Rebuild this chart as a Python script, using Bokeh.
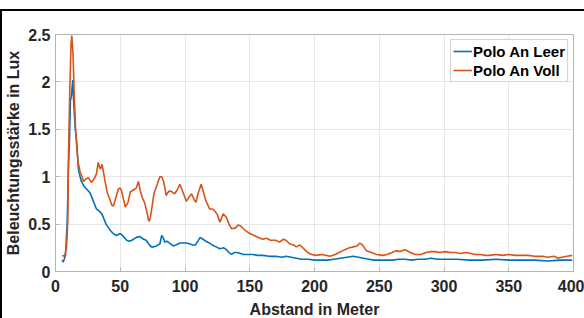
from bokeh.plotting import figure
from bokeh.models import Range1d, FixedTicker, CustomJSTickFormatter, Legend, LegendItem
from bokeh.embed import file_html
from bokeh.resources import INLINE

# --- data ---
leer_x = [5, 6, 7.7, 9, 10, 10.8, 11.5, 12.3, 13.3, 14, 15, 16.4, 17.7, 19, 20, 22, 24, 26.6, 29, 31.6,
          33.5, 35.6, 37, 39, 41, 42.5, 44.7, 47, 50, 51, 53, 55, 57, 59, 62.5, 65, 68, 70, 72, 74,
          76, 78, 80.6, 82, 83, 84.5, 86, 88, 91, 93, 96, 98.6, 101, 104, 106, 108, 110, 111.7, 114, 116,
          119, 121, 124, 127, 130, 132, 134, 136, 138, 140, 143, 145, 149, 152.5, 156, 160, 165, 170, 175, 178,
          182, 186, 190, 195, 200, 205, 210, 215, 220, 225, 230, 234, 238, 242, 246, 250, 255, 260, 265, 270,
          275, 280, 285, 290, 295, 300, 310, 320, 330, 340, 350, 360, 370, 380, 390, 399]
leer_y = [0.12, 0.10, 0.17, 0.50, 1.10, 1.39, 1.80, 1.85, 2.02, 1.80, 1.55, 1.35, 1.08, 1.00, 0.95, 0.90, 0.87, 0.83, 0.75, 0.66,
          0.64, 0.61, 0.57, 0.50, 0.46, 0.43, 0.40, 0.38, 0.40, 0.39, 0.36, 0.33, 0.32, 0.33, 0.36, 0.37, 0.34, 0.33, 0.29, 0.26,
          0.26, 0.27, 0.29, 0.38, 0.36, 0.31, 0.32, 0.30, 0.27, 0.28, 0.30, 0.30, 0.30, 0.29, 0.28, 0.28, 0.32, 0.36, 0.34, 0.32,
          0.30, 0.28, 0.26, 0.24, 0.25, 0.23, 0.20, 0.18, 0.20, 0.20, 0.19, 0.18, 0.18, 0.18, 0.17, 0.17, 0.16, 0.16, 0.15, 0.16,
          0.15, 0.14, 0.13, 0.13, 0.12, 0.12, 0.12, 0.13, 0.14, 0.15, 0.16, 0.15, 0.14, 0.13, 0.12, 0.12, 0.12, 0.12, 0.13, 0.13,
          0.12, 0.13, 0.13, 0.14, 0.13, 0.13, 0.13, 0.12, 0.12, 0.13, 0.12, 0.12, 0.12, 0.11, 0.12, 0.12]

voll_x = [5, 7, 8.5, 9.5, 10, 11, 12, 12.6, 13.5, 14.5, 15.5, 16.5, 17.5, 19, 20.5, 21.6, 23, 25.4, 27.7, 29.5,
          31.6, 33, 34, 34.7, 36, 37, 38.3, 40, 42, 43.5, 44.7, 46, 48.5, 50, 51, 52.5, 54, 56, 57.8, 60,
          62.4, 64, 65.5, 67, 69, 71, 72, 73, 74.5, 76, 78, 80.6, 82, 83.5, 85.5, 86.5, 88, 90, 92, 94,
          96, 98.6, 101, 103, 105, 107, 108.5, 110, 112.5, 114, 116, 119, 121, 123, 125, 127, 129.5, 132, 134, 136,
          139, 141, 143, 146, 150, 155, 160, 163, 166, 170, 173, 176, 178, 181, 184, 186, 188.7, 191, 194, 196,
          198, 201, 206, 212, 216, 219, 222, 225, 227, 230, 233, 235, 237, 240, 244, 248, 252.7, 256, 260, 263,
          266, 270, 274, 278, 282, 286, 290, 293, 297, 301, 305, 309, 313, 317, 321, 324, 328, 332, 335, 340,
          345, 350, 355, 360, 365, 370, 376, 380, 385, 388, 391, 395, 399]
voll_y = [0.17, 0.16, 0.25, 0.53, 1.20, 1.90, 2.40, 2.49, 2.30, 1.85, 1.50, 1.30, 1.15, 1.05, 1.00, 0.95, 0.97, 0.99, 0.94, 0.97,
          1.03, 1.15, 1.10, 1.08, 1.13, 1.05, 0.95, 0.83, 0.76, 0.70, 0.69, 0.75, 0.87, 0.88, 0.85, 0.76, 0.68, 0.73, 0.84, 0.86,
          0.88, 0.95, 0.85, 0.78, 0.72, 0.60, 0.53, 0.55, 0.68, 0.82, 0.90, 1.00, 1.00, 0.95, 0.80, 0.83, 0.85, 0.84, 0.82, 0.86,
          0.92, 0.83, 0.74, 0.78, 0.82, 0.76, 0.73, 0.82, 0.92, 0.85, 0.75, 0.66, 0.66, 0.64, 0.60, 0.52, 0.61, 0.57, 0.50, 0.45,
          0.46, 0.49, 0.48, 0.44, 0.40, 0.37, 0.34, 0.35, 0.33, 0.33, 0.31, 0.34, 0.33, 0.29, 0.28, 0.26, 0.28, 0.25, 0.21, 0.19,
          0.18, 0.17, 0.18, 0.16, 0.18, 0.20, 0.22, 0.24, 0.25, 0.26, 0.27, 0.30, 0.28, 0.22, 0.20, 0.18, 0.17, 0.18, 0.20, 0.22,
          0.21, 0.23, 0.20, 0.18, 0.18, 0.20, 0.21, 0.21, 0.20, 0.21, 0.20, 0.20, 0.19, 0.20, 0.19, 0.18, 0.18, 0.17, 0.17, 0.18,
          0.17, 0.18, 0.17, 0.17, 0.17, 0.16, 0.16, 0.15, 0.16, 0.14, 0.15, 0.16, 0.17]

x_ticks = [0, 50, 100, 150, 200, 250, 300, 350, 400]
y_ticks = [0, 0.5, 1, 1.5, 2, 2.5]

series_names = ["Polo An Leer", "Polo An Voll"]
colors = ["#0072BD", "#D95319"]

FONT = "Liberation Sans"
TXT = "#262626"
AX = "#b4b4b4"

p = figure(width=584, height=309, output_backend="svg", toolbar_location=None,
           x_range=Range1d(0, 400), y_range=Range1d(0, 2.5),
           min_border_left=50, min_border_right=13, min_border_top=23, min_border_bottom=45)
p.styles = {"border-top": "2px solid black", "border-left": "2px solid black",
            "margin-top": "9px"}
p.outline_line_color = AX
p.background_fill_color = "white"
p.border_fill_color = "white"

fmt = CustomJSTickFormatter(code="return tick.toString();")

for ax in (p.xaxis[0], p.yaxis[0]):
    ax.major_label_text_font = FONT
    ax.major_label_text_font_style = "bold"
    ax.major_label_text_font_size = "16px"
    ax.major_label_text_color = TXT
    ax.axis_label_text_font = FONT
    ax.axis_label_text_font_style = "bold"
    ax.axis_label_text_font_size = "16px"
    ax.axis_label_text_color = TXT
    ax.axis_line_color = AX
    ax.major_tick_line_color = AX
    ax.major_tick_in = 4
    ax.major_tick_out = 0
    ax.minor_tick_line_color = None
    ax.formatter = fmt

p.xaxis[0].ticker = FixedTicker(ticks=x_ticks)
p.yaxis[0].ticker = FixedTicker(ticks=y_ticks)
p.xaxis.axis_label = "Abstand in Meter"
p.yaxis.axis_label = "Beleuchtungsstärke in Lux"
p.xaxis[0].major_label_standoff = 8
p.yaxis[0].major_label_standoff = 5
p.xaxis[0].axis_label_standoff = 6
p.yaxis[0].axis_label_standoff = 3

p.xgrid.ticker = FixedTicker(ticks=x_ticks)
p.ygrid.ticker = FixedTicker(ticks=y_ticks)
p.grid.grid_line_color = "#e6e6e6"
p.grid.grid_line_width = 1

r1 = p.line(leer_x, leer_y, line_color=colors[0], line_width=1.6)
r2 = p.line(voll_x, voll_y, line_color=colors[1], line_width=1.6)

legend = Legend(items=[LegendItem(label=series_names[0], renderers=[r1]),
                       LegendItem(label=series_names[1], renderers=[r2])],
                location="top_right")
legend.label_text_font = FONT
legend.label_text_font_style = "bold"
legend.label_text_font_size = "15px"
legend.label_text_color = "black"
legend.border_line_color = "#a8a8a8"
legend.border_line_width = 1
legend.glyph_width = 19
legend.glyph_height = 18
legend.label_height = 18
legend.label_standoff = 1
legend.padding = 2
legend.spacing = 1
legend.margin = 5
p.add_layout(legend)

open("out.html", "w").write(file_html(p, INLINE))
